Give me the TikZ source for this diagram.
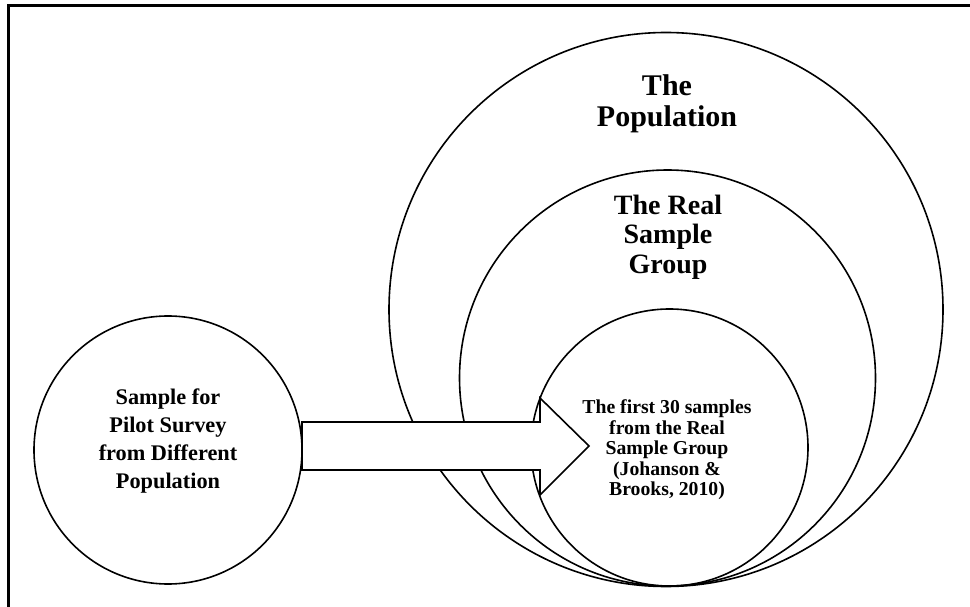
\documentclass[tikz,border=0pt]{standalone}
\usepackage{fontspec}
\setmainfont{Liberation Serif}
\usetikzlibrary{calc}
\begin{document}
\begin{tikzpicture}[x=1pt,y=-1pt,
  ring/.style={circle, draw, line width=1.6pt, inner sep=0pt, outer sep=0pt},
  caption/.style={align=center, inner sep=0pt},
  blockarrow/.style={draw, fill=white, line width=1.6pt, line join=miter},
  frame/.style={line width=3pt}
]
\useasboundingbox (0,0) rectangle (970,607);
% frame: top and left edges
\draw[frame] (8,607) -- (8,6) -- (970,6);

% nested circles, all touching at the bottom
\node[ring, minimum size=554pt] (pop)   at (666,309.5) {};
\node[ring, minimum size=416pt] (real)  at (667.5,378) {};
\node[ring, minimum size=277pt] (first) at (669.5,447.5) {};
% pilot-survey circle
\node[ring, minimum size=268pt] (pilot) at (168,450) {};

% labels
\node[caption, font=\bfseries\fontsize{30}{31}\selectfont] (poptxt) at (667,104) {The\\Population};
\node[caption, font=\bfseries\fontsize{28}{29.5}\selectfont] (realtxt) at (668,237) {The Real\\Sample\\Group};
\node[caption, font=\bfseries\fontsize{19.7}{20.5}\selectfont] (firsttxt) at (667,450) {The first 30 samples\\from the Real\\Sample Group\\(Johanson \&\\Brooks, 2010)};
\node[caption, font=\bfseries\fontsize{22.3}{27.7}\selectfont] (pilottxt) at (168,441) {Sample for\\Pilot Survey\\from Different\\Population};

% block arrow from the pilot circle into the first-30 circle
\coordinate (tail) at (pilot.east |- 0,446);
\coordinate (tip) at (589,446);
\draw[blockarrow] ($(tail)+(0,-24)$) -- ($(tip)+(-49,-24)$) -- ($(tip)+(-49,-48)$)
  -- (tip) -- ($(tip)+(-49,49)$) -- ($(tip)+(-49,24)$) -- ($(tail)+(0,24)$) -- cycle;
\end{tikzpicture}
\end{document}
